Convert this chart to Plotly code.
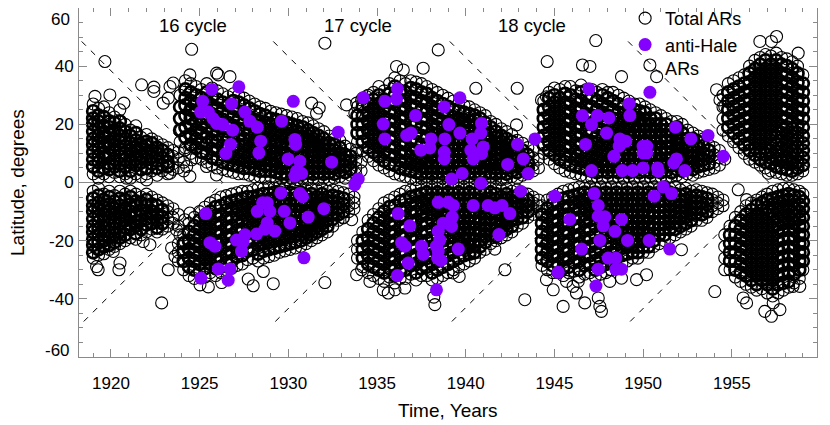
import plotly.graph_objects as go

# ---- data (year -> latitudes of ARs) ----
c15_north = {
    1919.0: [3, 5.5, 8, 10.5, 13, 15, 17.5, 20, 22, 24.5, 27],
    1919.3: [1.5, 4, 7, 9, 11.5, 14, 16, 18.5, 21, 23, 25.5],
    1919.6: [3, 5, 8.5, 10, 12.5, 15.5, 17, 19.5, 22.5, 26],
    1919.9: [2, 4.5, 6.5, 9.5, 12, 14, 16.5, 19, 21, 24],
    1920.2: [3.5, 5.5, 8, 11, 13, 15, 18, 20.5, 22.5],
    1920.5: [2, 4, 6.5, 9, 11.5, 14, 16, 18.5, 21, 25],
    1920.8: [3, 5.5, 8, 10, 12.5, 15, 17.5, 20],
    1921.1: [1.5, 4, 7, 9, 11, 13.5, 16, 18],
    1921.4: [3, 6, 8, 10.5, 12, 14.5, 17, 19.5],
    1921.7: [2, 4.5, 7, 9, 11.5, 13, 15.5],
    1922.0: [3, 5, 8, 10, 12.5, 14, 16.5],
    1922.3: [4, 6.5, 9, 11, 13.5, 15],
    1922.6: [2.5, 5, 7.5, 10, 12, 14],
    1922.9: [4, 6, 8.5, 11, 13],
    1923.2: [3, 5.5, 7, 9.5, 12],
    1923.5: [4.5, 6.5, 9, 11],
    1923.8: [5, 8, 10.5],
    1924.1: [4, 7],
}
c15_south = {
    1919.0: [-3, -5.5, -8, -10, -12.5, -15, -17, -19.5, -21.5, -24, -26],
    1919.3: [-2, -4.5, -7, -9, -11.5, -13.5, -16, -18, -20.5, -23, -25],
    1919.6: [-4, -6, -8.5, -11, -13, -15.5, -18, -20, -22, -24.5],
    1919.9: [-3, -5, -7.5, -10, -12, -14.5, -17, -19, -21.5, -23],
    1920.2: [-4.5, -6.5, -9, -11, -13.5, -16, -18, -20.5, -22],
    1920.5: [-3, -5.5, -8, -10.5, -12, -14, -17, -19, -21],
    1920.8: [-4, -6, -9, -11.5, -13, -15.5, -18, -20],
    1921.1: [-3, -5, -7.5, -10, -12, -14.5, -16, -19],
    1921.4: [-4, -6.5, -8, -11, -13.5, -15, -17.5, -19.5],
    1921.7: [-5, -7, -9.5, -11.5, -13, -16, -18],
    1922.0: [-4, -6, -8, -10.5, -12.5, -14.5, -17],
    1922.3: [-5, -7.5, -10, -12, -14, -16],
    1922.6: [-6, -8, -11, -13, -15.5, -17],
    1922.9: [-7, -9.5, -12, -14, -16],
    1923.2: [-8, -10, -12.5, -15],
    1923.5: [-9, -12, -14],
    1923.8: [-11, -15],
}
c16_north = {
    1923.9: [14, 18, 22, 26, 30],
    1924.2: [12, 15.5, 19, 23, 26.5, 29, 32, 35],
    1924.5: [10, 13, 16.5, 19.5, 22, 25, 28, 31, 34],
    1924.8: [8.5, 12, 15, 18, 21, 24, 27, 30, 33],
    1925.1: [8, 10.5, 13.5, 17, 20, 22.5, 25.5, 29, 32],
    1925.4: [7, 10, 13, 15.5, 19, 22, 25, 28, 31, 34],
    1925.7: [6, 8.5, 11.5, 14.5, 17.5, 20.5, 23.5, 26.5, 29.5, 32.5],
    1926.0: [5, 8, 11, 14, 16.5, 19.5, 22.5, 25.5, 28.5, 31.5],
    1926.3: [4.5, 7, 9.5, 12.5, 15.5, 18.5, 21.5, 24.5, 27.5, 30.5],
    1926.6: [4, 6.5, 9, 12, 15, 17.5, 20.5, 23.5, 26.5, 29.5],
    1926.9: [3.5, 6, 8.5, 11, 14, 16.5, 19.5, 22.5, 25.5, 28, 30.5],
    1927.2: [3, 5.5, 8, 10.5, 13, 16, 18.5, 21.5, 24.5, 27.5, 30],
    1927.5: [3, 5, 7.5, 10, 12.5, 15, 18, 20.5, 23.5, 26.5, 29],
    1927.8: [2.5, 5, 7, 9.5, 12, 14.5, 17, 20, 22.5, 25.5, 28],
    1928.1: [2, 4.5, 7, 9, 11.5, 14, 16.5, 19, 21.5, 24.5, 27],
    1928.4: [2, 4, 6.5, 9, 11, 13.5, 16, 18.5, 21, 23.5, 26],
    1928.7: [1.5, 4, 6, 8.5, 11, 13, 15.5, 18, 20.5, 23, 25.5],
    1929.0: [2, 4, 6, 8, 10.5, 12.5, 15, 17.5, 20, 22, 24.5],
    1929.3: [1, 3.5, 5.5, 8, 10, 12.5, 14.5, 17, 19.5, 21.5, 24],
    1929.6: [1.5, 3, 5, 7.5, 9.5, 12, 14, 16.5, 19, 21, 23.5],
    1929.9: [1, 3, 5.5, 7, 9.5, 11.5, 13.5, 16, 18.5, 20.5, 23],
    1930.2: [1.5, 3.5, 5, 7, 9, 11.5, 13.5, 15.5, 18, 20, 22.5],
    1930.5: [1, 3, 4.5, 6.5, 9, 11, 13, 15.5, 17.5, 19.5, 22],
    1930.8: [1.5, 3, 5, 7, 8.5, 10.5, 12.5, 15, 17, 19, 21],
    1931.1: [1, 3.5, 5.5, 7.5, 9.5, 12, 14, 16, 18, 20.5],
    1931.4: [1.5, 3, 5, 7, 9, 11, 13, 15, 17, 19.5],
    1931.7: [1, 3.5, 5.5, 7.5, 10, 12, 14, 16, 18.5],
    1932.0: [1.5, 3, 5, 7, 9, 11, 13, 15, 17.5],
    1932.3: [1, 3.5, 5.5, 7.5, 9.5, 11.5, 13.5, 16],
    1932.6: [1.5, 3, 5, 7, 9, 11, 13, 15],
    1932.9: [2, 4, 6, 8, 10, 12, 14.5],
    1933.2: [1.5, 3.5, 5.5, 7.5, 9.5, 12.5],
    1933.5: [2.5, 4.5, 7, 9, 11.5],
    1933.8: [3, 5, 7.5, 10],
    1934.1: [4, 7],
}
c16_south = {
    1923.8: [-21, -24, -27],
    1924.1: [-18, -21, -24, -27, -30],
    1924.4: [-14, -17, -20, -23, -26, -29, -32],
    1924.7: [-12, -15, -18, -21, -24, -27, -30, -33],
    1925.0: [-10, -13, -16, -19, -22, -25, -28, -31],
    1925.3: [-8.5, -11.5, -14.5, -17.5, -20.5, -23.5, -26.5, -29.5, -32.5],
    1925.6: [-7, -10, -13, -16, -19, -22, -25, -28, -31],
    1925.9: [-6, -8.5, -11.5, -14.5, -17.5, -20.5, -23.5, -26.5, -29.5, -32],
    1926.2: [-5, -8, -11, -14, -17, -20, -23, -26, -29, -31],
    1926.5: [-4.5, -7, -9.5, -12.5, -15.5, -18.5, -21.5, -24.5, -27.5, -30],
    1926.8: [-4, -6.5, -9, -12, -15, -18, -21, -24, -27, -29.5],
    1927.1: [-3.5, -6, -8.5, -11, -13.5, -16.5, -19.5, -22.5, -25.5, -28.5],
    1927.4: [-3, -5.5, -8, -10.5, -13, -16, -19, -22, -25, -28],
    1927.7: [-3, -5, -7.5, -10, -12.5, -15, -17.5, -20.5, -23.5, -26.5],
    1928.0: [-2.5, -5, -7, -9.5, -12, -14.5, -17, -20, -23, -26],
    1928.3: [-2, -4.5, -6.5, -9, -11.5, -14, -16.5, -19, -21.5, -24.5, -27],
    1928.6: [-2, -4, -6.5, -8.5, -11, -13.5, -16, -18.5, -21, -23.5, -26],
    1928.9: [-1.5, -4, -6, -8.5, -10.5, -13, -15.5, -18, -20.5, -23, -25.5],
    1929.2: [-2, -3.5, -5.5, -8, -10.5, -12.5, -15, -17.5, -20, -22.5, -25],
    1929.5: [-1.5, -3.5, -6, -7.5, -10, -12, -14.5, -17, -19.5, -22, -24],
    1929.8: [-2, -4, -5.5, -8, -9.5, -12, -14, -16.5, -19, -21.5, -23.5],
    1930.1: [-1.5, -3.5, -6, -7.5, -10, -11.5, -14, -16, -18.5, -21, -23],
    1930.4: [-2, -4, -5.5, -8, -9.5, -12, -13.5, -16, -18, -20.5, -22.5],
    1930.7: [-1.5, -3.5, -6, -7.5, -10, -11.5, -14, -15.5, -18, -20, -22],
    1931.0: [-2.5, -4.5, -6.5, -8.5, -10.5, -13, -15, -17, -19, -21],
    1931.3: [-2, -4, -6, -8, -10, -12, -14, -16, -18, -20],
    1931.6: [-2.5, -5, -7, -9, -11, -13, -15, -17, -19],
    1931.9: [-2, -4, -6, -8, -10, -12, -14, -16, -18],
    1932.2: [-3, -5, -7, -9, -11, -13, -15, -17],
    1932.5: [-2.5, -4.5, -6.5, -8.5, -10.5, -12.5, -15],
    1932.8: [-3, -5, -7, -9, -11, -13],
    1933.1: [-3.5, -5.5, -7.5, -10, -12],
    1933.4: [-4, -6, -8, -10],
    1933.7: [-5, -7, -9],
}
c17_north = {
    1933.9: [14, 17, 20, 23, 26],
    1934.2: [11, 14, 17, 20, 23, 26, 29],
    1934.5: [9, 12, 15, 18, 21, 24, 27, 30],
    1934.8: [7.5, 10.5, 13.5, 16.5, 19.5, 22.5, 25.5, 28.5, 31],
    1935.1: [6, 9, 12, 15, 18, 21, 24, 27, 30, 33],
    1935.4: [5, 7.5, 10.5, 13.5, 16.5, 19.5, 22.5, 25.5, 28.5, 31.5],
    1935.7: [4, 6.5, 9.5, 12.5, 15.5, 18.5, 21.5, 24.5, 27.5, 30.5, 34],
    1936.0: [3, 6, 9, 12, 15, 18, 21, 24, 27, 30, 33, 36],
    1936.3: [2.5, 5, 7.5, 10.5, 13.5, 16.5, 19.5, 22.5, 25.5, 28.5, 31.5, 35],
    1936.6: [2, 4.5, 7, 10, 13, 16, 19, 22, 25, 28, 31, 34],
    1936.9: [1.5, 4, 6.5, 9, 11.5, 14.5, 17.5, 20.5, 23.5, 26.5, 29.5, 32.5, 35],
    1937.2: [1, 3.5, 6, 8.5, 11, 14, 17, 20, 23, 26, 29, 32, 34.5],
    1937.5: [1.5, 3, 5.5, 8, 10.5, 13, 16, 19, 22, 25, 28, 31, 34],
    1937.8: [1, 3.5, 5, 7.5, 10, 12.5, 15.5, 18.5, 21.5, 24.5, 27.5, 30.5, 33],
    1938.1: [1.5, 3, 5.5, 7, 9.5, 12, 14.5, 17, 20, 23, 26, 29, 32],
    1938.4: [1, 3.5, 5, 7.5, 9, 11.5, 14, 16.5, 19, 22, 25, 28, 31],
    1938.7: [1.5, 3, 5.5, 7, 9.5, 11, 13.5, 16, 18.5, 21, 24, 27, 30],
    1939.0: [1, 3.5, 5, 7.5, 9, 11.5, 13, 15.5, 18, 20.5, 23, 26, 29],
    1939.3: [1.5, 3, 5.5, 7, 9.5, 11, 13.5, 15, 17.5, 20, 22.5, 25, 28],
    1939.6: [1, 3.5, 5, 7.5, 9, 11.5, 13, 15.5, 17, 19.5, 22, 24.5, 27],
    1939.9: [1.5, 3, 5.5, 7, 9.5, 11, 13.5, 15, 17.5, 19, 21.5, 24, 26.5],
    1940.2: [1, 3.5, 5, 7.5, 9, 11.5, 13, 15.5, 17, 19.5, 21, 23.5, 26],
    1940.5: [1.5, 3, 5.5, 7, 9.5, 11, 13.5, 15, 17.5, 19, 21.5, 23, 25],
    1940.8: [1, 3.5, 5, 7.5, 10, 12, 14, 16, 18, 20, 22, 24],
    1941.1: [1.5, 3, 5.5, 8, 10, 12.5, 14.5, 16.5, 18.5, 20.5, 23],
    1941.4: [1, 3.5, 6, 8, 10.5, 12.5, 14.5, 16.5, 19, 21],
    1941.7: [1.5, 3, 5, 7.5, 9.5, 11.5, 13.5, 15.5, 17.5, 20],
    1942.0: [1, 3.5, 6, 8, 10, 12, 14, 16, 18.5],
    1942.3: [1.5, 3, 5, 7, 9, 11, 13, 15, 17.5],
    1942.6: [2, 4, 6, 8, 10, 12, 14, 16.5],
    1942.9: [1.5, 3.5, 5.5, 7.5, 9.5, 12, 14.5],
    1943.2: [2.5, 4.5, 6.5, 8.5, 11, 13.5],
    1943.5: [3, 5, 7, 9.5, 12],
    1943.8: [4, 6, 8.5, 11],
    1944.1: [5, 8],
}
c17_south = {
    1933.9: [-20, -23, -26],
    1934.2: [-17, -20, -23, -26, -29],
    1934.5: [-13, -16, -19, -22, -25, -28, -31],
    1934.8: [-11, -14, -17, -20, -23, -26, -29, -32],
    1935.1: [-9, -12, -15, -18, -21, -24, -27, -30, -33],
    1935.4: [-7, -10, -13, -16, -19, -22, -25, -28, -31, -34],
    1935.7: [-6, -8.5, -11.5, -14.5, -17.5, -20.5, -23.5, -26.5, -29.5, -32.5],
    1936.0: [-5, -8, -11, -14, -17, -20, -23, -26, -29, -32, -34.5],
    1936.3: [-4, -6.5, -9.5, -12.5, -15.5, -18.5, -21.5, -24.5, -27.5, -30.5, -33],
    1936.6: [-3, -6, -9, -12, -15, -18, -21, -24, -27, -30, -33],
    1936.9: [-2.5, -5, -7.5, -10.5, -13.5, -16.5, -19.5, -22.5, -25.5, -28.5, -31.5],
    1937.2: [-2, -4.5, -7, -10, -13, -16, -19, -22, -25, -28, -31, -33.5],
    1937.5: [-1.5, -4, -6.5, -9, -11.5, -14.5, -17.5, -20.5, -23.5, -26.5, -29.5, -32],
    1937.8: [-2, -3.5, -6, -8.5, -11, -14, -17, -20, -23, -26, -29, -32],
    1938.1: [-1.5, -4, -5.5, -8, -10.5, -13, -16, -19, -22, -25, -28, -31, -33.5],
    1938.4: [-2, -3.5, -6, -7.5, -10, -12.5, -15, -18, -21, -24, -27, -30, -33],
    1938.7: [-1.5, -4, -5.5, -8, -9.5, -12, -14.5, -17, -20, -23, -26, -29, -32],
    1939.0: [-2, -3.5, -6, -7.5, -10, -11.5, -14, -16.5, -19, -22, -25, -28, -31],
    1939.3: [-1.5, -4, -5.5, -8, -9.5, -12, -13.5, -16, -18.5, -21, -24, -27, -30],
    1939.6: [-2, -3.5, -6, -7.5, -10, -11.5, -14, -15.5, -18, -20.5, -23, -26, -29],
    1939.9: [-1.5, -4, -5.5, -8, -9.5, -12, -13.5, -16, -17.5, -20, -22.5, -25, -28],
    1940.2: [-2, -3.5, -6, -7.5, -10, -11.5, -14, -15.5, -18, -19.5, -22, -24.5, -27],
    1940.5: [-1.5, -4, -5.5, -8, -9.5, -12, -13.5, -16, -17.5, -20, -21.5, -24, -26],
    1940.8: [-2, -3.5, -6, -8, -10, -12, -14, -16, -18, -20, -22, -24],
    1941.1: [-1.5, -4, -6.5, -8.5, -10.5, -12.5, -14.5, -16.5, -18.5, -20.5, -23],
    1941.4: [-2, -3.5, -5.5, -8, -10, -12, -14, -16, -18, -21],
    1941.7: [-1.5, -4, -6, -8.5, -10.5, -12.5, -14.5, -16.5, -18.5, -20],
    1942.0: [-2.5, -5, -7, -9, -11, -13, -15, -17, -19],
    1942.3: [-2, -4, -6, -8, -10, -12, -14, -16, -18],
    1942.6: [-3, -5, -7, -9, -11, -13, -15, -17],
    1942.9: [-2.5, -4.5, -6.5, -8.5, -10.5, -12.5, -15],
    1943.2: [-3.5, -5.5, -7.5, -10, -12, -14],
    1943.5: [-4, -6, -8, -10, -12],
    1943.8: [-5, -7, -9, -11],
    1944.1: [-6, -8],
}
c18_north = {
    1944.4: [10, 13, 16, 19, 22, 25, 28],
    1944.7: [8, 11, 14, 17, 20, 23, 26, 29, 31],
    1945.0: [6.5, 9.5, 12.5, 15.5, 18.5, 21.5, 24.5, 27.5, 30, 32.5],
    1945.3: [5, 8, 11, 14, 17, 20, 23, 26, 29, 32],
    1945.6: [4, 7, 9.5, 12.5, 15.5, 18.5, 21.5, 24.5, 27.5, 30.5, 33],
    1945.9: [3.5, 6, 9, 12, 15, 18, 21, 24, 27, 30, 33],
    1946.2: [3, 5.5, 8, 10.5, 13.5, 16.5, 19.5, 22.5, 25.5, 28.5, 31.5],
    1946.5: [2.5, 5, 7.5, 10, 13, 16, 19, 22, 25, 28, 31, 33.5],
    1946.8: [2, 4.5, 7, 9.5, 12, 14.5, 17.5, 20.5, 23.5, 26.5, 29.5, 32],
    1947.1: [1.5, 4, 6.5, 9, 11.5, 14, 17, 20, 23, 26, 29, 32],
    1947.4: [2, 3.5, 6, 8.5, 11, 13.5, 16, 19, 22, 25, 28, 31],
    1947.7: [1.5, 4, 5.5, 8, 10.5, 13, 15.5, 18, 21, 24, 27, 30, 32],
    1948.0: [2, 3.5, 6, 7.5, 10, 12.5, 15, 17.5, 20, 23, 26, 29, 31],
    1948.3: [1.5, 4, 5.5, 8, 9.5, 12, 14.5, 17, 19.5, 22, 25, 28, 31],
    1948.6: [2, 3.5, 6, 7.5, 10, 11.5, 14, 16.5, 19, 21.5, 24, 27, 30],
    1948.9: [1.5, 4, 5.5, 8, 9.5, 12, 13.5, 16, 18.5, 21, 23.5, 26, 29],
    1949.2: [2, 3.5, 6, 7.5, 10, 11.5, 14, 15.5, 18, 20.5, 23, 25.5, 28],
    1949.5: [1.5, 4, 5.5, 8, 9.5, 12, 13.5, 16, 17.5, 20, 22.5, 25, 27],
    1949.8: [2, 3.5, 6, 7.5, 10, 11.5, 14, 15.5, 18, 19.5, 22, 24.5, 27],
    1950.1: [1.5, 4, 5.5, 8, 9.5, 12, 13.5, 16, 17.5, 20, 21.5, 24, 26],
    1950.4: [2, 3.5, 6, 7.5, 10, 11.5, 14, 15.5, 18, 19.5, 22, 25],
    1950.7: [1.5, 4, 5.5, 8, 9.5, 12, 13.5, 16, 17.5, 20, 22, 24],
    1951.0: [2, 3.5, 6, 7.5, 10, 11.5, 14, 15.5, 18, 20, 23],
    1951.3: [1.5, 4, 5.5, 8, 10, 12, 14, 16, 18, 20, 22],
    1951.6: [2, 3.5, 6, 8, 10, 12, 14, 16, 18, 21],
    1951.9: [2.5, 4.5, 7, 9, 11, 13, 15, 17, 19, 21],
    1952.2: [2, 4, 6, 8, 10, 12, 14.5, 17, 20],
    1952.5: [3, 5, 7, 9, 11, 13, 15, 18],
    1952.8: [2.5, 4.5, 6.5, 8.5, 10.5, 12.5, 15, 17],
    1953.1: [3.5, 5.5, 7.5, 9.5, 12, 14, 16],
    1953.4: [4, 6, 8, 10, 12.5, 15],
    1953.7: [4.5, 6.5, 9, 11, 13],
    1954.0: [5, 7, 9.5, 12],
    1954.3: [6, 8.5, 11],
    1954.6: [8],
}
c18_south = {
    1944.3: [-8, -11, -14, -17, -20, -23, -26, -28.5],
    1944.6: [-6, -9, -12, -15, -18, -21, -24, -27, -30],
    1944.9: [-5, -7.5, -10.5, -13.5, -16.5, -19.5, -22.5, -25.5, -28.5, -31],
    1945.2: [-4, -7, -10, -13, -16, -19, -22, -25, -28, -31],
    1945.5: [-3, -5.5, -8.5, -11.5, -14.5, -17.5, -20.5, -23.5, -26.5, -29.5, -32],
    1945.8: [-2.5, -5, -8, -11, -14, -17, -20, -23, -26, -29, -31],
    1946.1: [-2, -4.5, -7, -9.5, -12.5, -15.5, -18.5, -21.5, -24.5, -27.5, -30.5],
    1946.4: [-1.5, -4, -6.5, -9, -12, -15, -18, -21, -24, -27, -30, -32.5],
    1946.7: [-2, -3.5, -6, -8.5, -11, -13.5, -16.5, -19.5, -22.5, -25.5, -28.5, -31.5],
    1947.0: [-1.5, -4, -5.5, -8, -10.5, -13, -16, -19, -22, -25, -28, -31],
    1947.3: [-2, -3.5, -6, -7.5, -10, -12.5, -15, -18, -21, -24, -27, -30, -32.5],
    1947.6: [-1.5, -4, -5.5, -8, -9.5, -12, -14.5, -17, -20, -23, -26, -29, -31.5],
    1947.9: [-2, -3.5, -6, -7.5, -10, -11.5, -14, -16.5, -19, -22, -25, -28, -31],
    1948.2: [-1.5, -4, -5.5, -8, -9.5, -12, -13.5, -16, -18.5, -21, -24, -27, -30],
    1948.5: [-2, -3.5, -6, -7.5, -10, -11.5, -14, -15.5, -18, -20.5, -23, -26, -29],
    1948.8: [-1.5, -4, -5.5, -8, -9.5, -12, -13.5, -16, -17.5, -20, -22.5, -25, -28],
    1949.1: [-2, -3.5, -6, -7.5, -10, -11.5, -14, -15.5, -18, -19.5, -22, -24.5, -27],
    1949.4: [-1.5, -4, -5.5, -8, -9.5, -12, -13.5, -16, -17.5, -20, -21.5, -24, -26],
    1949.7: [-2, -3.5, -6, -7.5, -10, -11.5, -14, -15.5, -18, -19.5, -22, -24, -26],
    1950.0: [-1.5, -4, -5.5, -8, -9.5, -12, -13.5, -16, -17.5, -20, -22, -24],
    1950.3: [-2, -3.5, -6, -7.5, -10, -11.5, -14, -15.5, -18, -20, -22, -24],
    1950.6: [-1.5, -4, -5.5, -8, -10, -12, -14, -16, -18, -20, -22],
    1950.9: [-2, -3.5, -6, -8, -10, -12, -14, -16, -18, -21],
    1951.2: [-1.5, -4, -6, -8, -10, -12, -14, -16, -18, -20],
    1951.5: [-2, -3.5, -5.5, -7.5, -9.5, -11.5, -13.5, -16, -19],
    1951.8: [-1.5, -4, -6, -8, -10, -12, -14, -16, -18],
    1952.1: [-2.5, -4.5, -6.5, -8.5, -10.5, -12.5, -15, -17],
    1952.4: [-2, -4, -6, -8, -10, -12, -14, -16],
    1952.7: [-3, -5, -7, -9, -11, -13, -15],
    1953.0: [-2.5, -4.5, -6.5, -8.5, -10.5, -13],
    1953.3: [-3, -5, -7, -9, -11, -13],
    1953.6: [-3.5, -5.5, -7.5, -10, -12],
    1953.9: [-4, -6, -8, -10],
    1954.2: [-5, -7, -9],
    1954.5: [-6, -8],
}
c19_north = {
    1954.5: [18, 22, 26, 30],
    1954.8: [16, 19, 22, 25, 28, 31, 34],
    1955.1: [14, 17, 20, 23, 26, 29, 32, 35],
    1955.4: [12, 15, 18, 21, 24, 27, 30, 33, 36],
    1955.7: [10, 13, 16, 19, 22, 25, 28, 31, 34, 37],
    1956.0: [8, 11, 13.5, 16.5, 19.5, 22.5, 25.5, 28.5, 31.5, 34.5, 37.5, 40],
    1956.3: [7, 9.5, 12, 15, 18, 21, 24, 27, 30, 33, 36, 39, 42],
    1956.6: [6, 8, 10.5, 13.5, 16.5, 19.5, 22.5, 25.5, 28.5, 31.5, 34.5, 37.5, 40.5, 43],
    1956.9: [5, 7, 9.5, 12, 15, 18, 21, 24, 27, 30, 33, 36, 39, 42, 44],
    1957.2: [4, 6.5, 8.5, 11, 13.5, 16.5, 19.5, 22.5, 25.5, 28.5, 31.5, 34.5, 37.5, 40.5, 43.5],
    1957.5: [3.5, 5.5, 8, 10.5, 13, 15.5, 18, 21, 24, 27, 30, 33, 36, 39, 42, 44.5],
    1957.8: [3, 5, 7.5, 9.5, 12, 14.5, 17, 19.5, 22.5, 25.5, 28.5, 31.5, 34.5, 37.5, 40.5, 43],
    1958.1: [2.5, 4.5, 7, 9, 11.5, 14, 16.5, 19, 22, 25, 28, 31, 34, 37, 40, 42.5],
    1958.4: [2.5, 4, 6.5, 8.5, 11, 13.5, 16, 18.5, 21, 24, 27, 30, 33, 36, 39, 41.5],
    1958.7: [3, 5, 7, 9.5, 12, 14.5, 17, 19.5, 22.5, 25.5, 28.5, 31.5, 34.5, 37.5, 40],
    1959.0: [4, 6, 8.5, 11, 13.5, 16, 19, 22, 25, 28, 31, 34, 37],
}
c19_south = {
    1954.6: [-18, -22, -26],
    1954.9: [-15, -18, -21, -24, -27, -30],
    1955.2: [-12, -15, -18, -21, -24, -27, -30, -32.5],
    1955.5: [-10, -13, -16, -19, -22, -25, -28, -31, -34],
    1955.8: [-8, -11, -14, -17, -20, -23, -26, -29, -32, -35],
    1956.1: [-7, -9.5, -12.5, -15.5, -18.5, -21.5, -24.5, -27.5, -30.5, -33.5, -36],
    1956.4: [-6, -8, -11, -14, -17, -20, -23, -26, -29, -32, -35, -37],
    1956.7: [-5, -7, -9.5, -12.5, -15.5, -18.5, -21.5, -24.5, -27.5, -30.5, -33.5, -36.5],
    1957.0: [-4, -6, -8.5, -11, -14, -17, -20, -23, -26, -29, -32, -35, -38],
    1957.3: [-3, -5.5, -7.5, -10, -12.5, -15.5, -18.5, -21.5, -24.5, -27.5, -30.5, -33.5, -36.5, -39],
    1957.6: [-2.5, -5, -7, -9.5, -12, -14.5, -17, -20, -23, -26, -29, -32, -35, -38],
    1957.9: [-2, -4.5, -6.5, -9, -11.5, -14, -16.5, -19.5, -22.5, -25.5, -28.5, -31.5, -34.5, -37],
    1958.2: [-2, -4, -6, -8.5, -11, -13.5, -16, -19, -22, -25, -28, -31, -34, -36],
    1958.5: [-2.5, -4.5, -6.5, -9, -11.5, -14, -16.5, -19.5, -22.5, -25.5, -28.5, -31.5, -34.5],
    1958.8: [-3, -5, -7.5, -10, -12.5, -15, -18, -21, -24, -27, -30, -33],
    1959.0: [-4, -6.5, -9, -12, -15, -18, -21, -24, -27, -30],
}

# scattered ARs outside the main wings
stray_north = [
    (1919.66, 41.6), (1921.73, 33.6), (1922.42, 32.8), (1922.42, 31.3), (1920.73, 27.3),
    (1919.94, 30.1), (1919.10, 29.6), (1924.55, 45.8), (1924.45, 37.0), (1926.05, 37.0),
    (1923.51, 34.2), (1932.06, 47.9), (1931.74, 25.6), (1933.28, 26.7), (1933.75, 23.8),
    (1933.85, 27.3), (1933.85, 11.2), (1934.6, 18.7), (1934.13, 28.4), (1934.41, 29.5),
    (1936.10, 39.9), (1936.48, 38.7), (1938.45, 45.6), (1937.6, 39.3), (1940.57, 32.4),
    (1942.90, 32.4), (1944.59, 41.6), (1946.58, 40.4), (1947.0, 39.9), (1947.33, 48.8),
    (1950.38, 40.4), (1950.76, 36.4), (1948.78, 36.4), (1956.58, 48.5), (1957.52, 50.2),
    (1957.23, 48.5), (1958.74, 44.5), (1954.14, 31.9), (1954.33, 28.4), (1954.6, 26.1),
    (1955.1, 31.9), (1957.05, 3.2), (1942.86, 19.8), (1944.27, 28.4), (1944.55, 29.5),
    (1920.88, 1.5), (1922.01, 0.9), (1923.33, 3.2), (1924.45, 2.1), (1925.39, 5.5),
    (1925.95, 2.6), (1923.98, 18.1), (1924.55, 15.8), (1924.92, 13.5), (1925.2, 10.1),
    (1924.55, 7.8), (1924.27, 5.5), (1924.17, 11.2), (1922.95, 27.3), (1923.23, 29.0),
    (1923.33, 33.0), (1925.96, 37.6), (1926.71, 36.4), (1931.31, 27.3), (1931.59, 23.8),
]
stray_south = [
    (1955.36, -2.5), (1955.83, -5.9), (1919.19, -28.9), (1919.28, -30.0), (1920.51, -27.7),
    (1920.45, -30.0), (1920.13, -23.7), (1921.82, -20.3), (1922.2, -21.4), (1922.86, -41.4),
    (1923.23, -30.0), (1923.7, -16.3), (1923.89, -18.0), (1924.17, -20.3), (1923.42, -22.5),
    (1923.61, -25.4), (1924.17, -12.8), (1924.45, -10.5), (1925.02, -35.2), (1925.49, -35.9),
    (1926.24, -34.4), (1927.74, -33.2), (1928.02, -35.5), (1928.59, -30.6), (1929.15, -34.8),
    (1932.06, -34.4), (1933.09, -12.2), (1933.57, -12.8), (1933.85, -31.7), (1934.13, -30.0),
    (1934.60, -34.0), (1935.35, -36.9), (1935.63, -38.0), (1936.01, -36.9), (1936.57, -36.3),
    (1938.26, -42.0), (1938.20, -39.4), (1939.29, -31.1), (1939.63, -32.3), (1940.23, -23.7),
    (1940.42, -24.3), (1941.64, -22.9), (1942.21, -30.0), (1943.33, -40.3), (1944.55, -33.4),
    (1944.93, -36.9), (1945.49, -42.6), (1945.68, -34.0), (1946.05, -35.7), (1946.34, -34.0),
    (1946.71, -41.4), (1946.24, -38.0), (1947.47, -39.7), (1947.56, -42.6), (1947.65, -44.3),
    (1948.12, -34.0), (1948.78, -32.9), (1949.63, -33.4), (1950.19, -31.7), (1952.16, -23.1),
    (1954.04, -37.5), (1954.60, -30.0), (1955.64, -39.7), (1955.83, -41.4), (1956.86, -44.3),
    (1957.23, -46.0), (1957.71, -43.7), (1957.33, -41.4), (1958.45, -35.7), (1958.83, -35.7),
]

# anti-Hale active regions
ah16 = [
    (1925.68, 32.0), (1927.21, 32.9), (1925.17, 27.9), (1926.80, 27.0), (1925.06, 24.2),
    (1925.49, 24.2), (1925.75, 22.0), (1925.96, 20.3), (1926.30, 19.9), (1926.86, 18.0),
    (1927.55, 24.2), (1927.83, 21.1), (1928.25, 19.0), (1926.74, 13.1), (1926.48, 10.0),
    (1928.44, 14.2), (1928.34, 10.2), (1930.28, 27.9), (1929.62, 21.1), (1930.37, 14.8),
    (1930.41, 13.1), (1929.99, 8.1), (1930.65, 7.3), (1930.47, 3.9), (1930.75, 3.1),
    (1930.37, 2.2), (1932.81, 17.3), (1932.44, 7.0), (1933.94, 1.2), (1933.75, -0.7),
    (1929.58, -3.6), (1930.65, -3.8), (1930.80, -4.9), (1928.55, -7.0), (1928.81, -7.0),
    (1928.25, -9.9), (1928.96, -9.9), (1929.77, -9.9), (1932.00, -9.0), (1931.12, -11.9),
    (1930.09, -13.9), (1925.35, -10.7), (1928.81, -13.9), (1928.68, -16.0), (1929.24, -16.7),
    (1928.21, -17.7), (1927.55, -18.0), (1927.08, -19.8), (1927.45, -20.5), (1927.36, -23.6),
    (1925.58, -20.7), (1925.86, -21.9), (1930.88, -25.9), (1926.05, -29.7), (1926.71, -29.7),
    (1925.07, -32.9), (1926.61, -33.6),
]
ah17 = [
    (1934.22, 29.1), (1936.15, 32.2), (1936.10, 28.7), (1935.44, 27.9), (1939.67, 29.1),
    (1938.79, 26.0), (1937.17, 23.0), (1935.35, 20.1), (1935.44, 15.0), (1936.67, 16.2),
    (1936.91, 17.0), (1939.05, 19.9), (1939.67, 17.0), (1938.04, 15.0), (1938.82, 15.0),
    (1937.98, 11.9), (1937.47, 11.1), (1938.79, 10.4), (1938.79, 8.1), (1940.89, 20.3),
    (1940.85, 17.0), (1940.36, 15.0), (1940.98, 12.2), (1940.29, 11.1), (1940.89, 9.9),
    (1940.42, 8.1), (1943.90, 15.0), (1942.92, 13.1), (1943.24, 8.1), (1942.36, 6.2),
    (1943.52, 3.1), (1939.80, 3.1), (1939.20, 1.2), (1940.85, -0.3),
    (1943.09, -3.0), (1938.45, -6.8), (1939.02, -6.8), (1939.30, -7.9), (1940.42, -7.9),
    (1941.26, -7.9), (1941.64, -8.7), (1942.05, -7.9), (1942.49, -10.7), (1936.19, -10.7),
    (1939.24, -11.9), (1938.73, -14.0), (1939.20, -15.1), (1936.85, -14.9), (1938.45, -16.8),
    (1938.54, -19.8), (1938.35, -21.9), (1938.45, -23.6), (1938.41, -26.0), (1936.38, -20.7),
    (1936.57, -21.9), (1937.51, -21.9), (1937.60, -24.7), (1939.58, -22.9), (1941.87, -17.9),
    (1938.60, -26.8), (1936.76, -27.7), (1936.15, -32.0), (1938.35, -36.9),
]
ah18 = [
    (1946.94, 32.2), (1950.38, 31.0), (1949.21, 27.1), (1949.25, 23.0), (1946.58, 23.0),
    (1947.09, 19.9), (1947.42, 23.0), (1948.07, 22.2), (1947.94, 17.0), (1946.75, 13.1),
    (1948.69, 15.0), (1949.02, 14.2), (1948.65, 12.5), (1948.35, 9.0), (1950.0, 12.5),
    (1950.2, 12.5), (1950.0, 10.2), (1950.2, 10.2), (1951.82, 19.0), (1952.69, 15.0),
    (1953.66, 16.2), (1954.52, 9.0), (1951.88, 8.1), (1951.73, 6.7), (1952.35, 4.1),
    (1950.81, 5.0), (1950.85, 3.9), (1950.0, 5.0), (1949.40, 4.1), (1948.82, 4.1),
    (1947.09, 4.1),
    (1945.02, -4.7), (1947.24, -3.8), (1951.13, -1.5), (1951.60, -3.8), (1950.62, -4.7),
    (1947.47, -7.9), (1947.47, -11.6), (1947.84, -11.8), (1945.87, -12.7), (1948.78, -12.7),
    (1947.75, -14.9), (1948.41, -16.8), (1947.56, -19.9), (1949.12, -19.9), (1950.34, -19.9),
    (1951.50, -22.9), (1946.53, -22.9), (1948.03, -26.0), (1948.46, -26.0), (1947.47, -29.8),
    (1948.46, -29.9), (1948.78, -29.8), (1945.21, -30.9), (1947.34, -35.6),
]

# dashed guide lines: start year of each wedge, start latitude, years to reach equator
guide_starts = [1918.35, 1929.15, 1939.1, 1949.15]
guide_lat = 48.5
guide_span = 7.95

cycle_names = ['16 cycle', '17 cycle', '18 cycle']
cycle_name_years = [1924.6, 1933.9, 1943.75]
cycle_name_lat = 54

y_ticks = [-60, -40, -20, 0, 20, 40, 60]
x_ticks = [1920, 1925, 1930, 1935, 1940, 1945, 1950, 1955]

clouds = [c15_north, c15_south, c16_north, c16_south, c17_north, c17_south,
          c18_north, c18_south, c19_north, c19_south]

# dense interior of each wing vs. its ragged outer ring
core_x, core_y, edge_x, edge_y = [], [], [], []
for cloud in clouds:
    for year, lats in cloud.items():
        for i, lat in enumerate(lats):
            if len(lats) >= 5 and 0 < i < len(lats) - 1:
                core_x.append(year)
                core_y.append(lat)
            else:
                edge_x.append(year)
                edge_y.append(lat)
for year, lat in stray_north + stray_south:
    edge_x.append(year)
    edge_y.append(lat)

ah_all = ah16 + ah17 + ah18
ah_x = [p[0] for p in ah_all]
ah_y = [p[1] for p in ah_all]

fig = go.Figure()

for t0 in guide_starts:
    fig.add_trace(go.Scatter(
        x=[t0, t0 + guide_span, t0], y=[guide_lat, 0, -guide_lat],
        mode='lines', line=dict(color='black', width=1, dash='6px,7px'),
        showlegend=False, hoverinfo='skip'))

fig.add_trace(go.Scatter(
    x=core_x, y=core_y, mode='markers', showlegend=False,
    marker=dict(symbol='circle-open', size=12, color='black', line=dict(width=2.7))))
fig.add_trace(go.Scatter(
    x=edge_x, y=edge_y, mode='markers', name='Total ARs',
    marker=dict(symbol='circle-open', size=12, color='black', line=dict(width=1.1))))

fig.add_trace(go.Scatter(
    x=ah_x, y=ah_y, mode='markers', name='anti-Hale<br>ARs',
    marker=dict(symbol='circle', size=13, color='#8400ff', line=dict(width=0))))

for name, yr in zip(cycle_names, cycle_name_years):
    fig.add_annotation(x=yr, y=cycle_name_lat, text=name, showarrow=False,
                       font=dict(size=18.5, color='black'))

# axis titles and the two end labels of the latitude axis, placed as in the original
fig.add_annotation(xref='paper', yref='paper', x=0.5, y=0, yshift=-53, yanchor='middle',
                   text='Time, Years', showarrow=False, font=dict(size=19, color='black'))
fig.add_annotation(xref='paper', yref='paper', x=0, y=0.5, xshift=-61.5, xanchor='center',
                   yanchor='middle', textangle=-90, text='Latitude, degrees',
                   showarrow=False, font=dict(size=19, color='black'))
fig.add_annotation(xref='paper', yref='y', x=0, y=56, xanchor='right', xshift=-7,
                   text='60', showarrow=False, font=dict(size=17, color='black'))
fig.add_annotation(xref='paper', yref='y', x=0, y=-57.6, xanchor='right', xshift=-7,
                   text='-60', showarrow=False, font=dict(size=17, color='black'))

axis_common = dict(
    showgrid=False, showline=True, linecolor='#8a8a8a', linewidth=1, mirror='ticks',
    ticks='inside', ticklen=8, tickcolor='#8a8a8a', tickwidth=1, automargin=False,
    tickfont=dict(size=17, color='black'),
)

fig.update_xaxes(
    range=[1918.2, 1959.8], tickvals=x_ticks,
    minor=dict(ticks='inside', ticklen=4, dtick=1, tick0=1920, tickcolor='#8a8a8a'),
    zeroline=False, ticklabelstandoff=11,
    **axis_common)
fig.update_yaxes(
    range=[-60, 60], tickvals=y_ticks,
    ticktext=['' if abs(v) == 60 else str(v) for v in y_ticks],
    minor=dict(ticks='inside', ticklen=4, dtick=5, tick0=0, tickcolor='#8a8a8a'),
    zeroline=True, zerolinecolor='#8a8a8a', zerolinewidth=1, ticklabelstandoff=1,
    **axis_common)

# the page adds an 8px body margin, so the figure is sized to end at the window edge
fig.update_layout(
    width=822, height=417,
    margin=dict(l=71, r=13, t=0, b=68, autoexpand=False),
    paper_bgcolor='white', plot_bgcolor='white',
    font=dict(family='Liberation Sans, Arial, sans-serif', color='black'),
    legend=dict(x=0.74, y=1.023, xanchor='left', yanchor='top', bgcolor='rgba(0,0,0,0)',
                font=dict(size=18), valign='top', tracegroupgap=0, itemwidth=30),
)

fig.write_html('out.html')
